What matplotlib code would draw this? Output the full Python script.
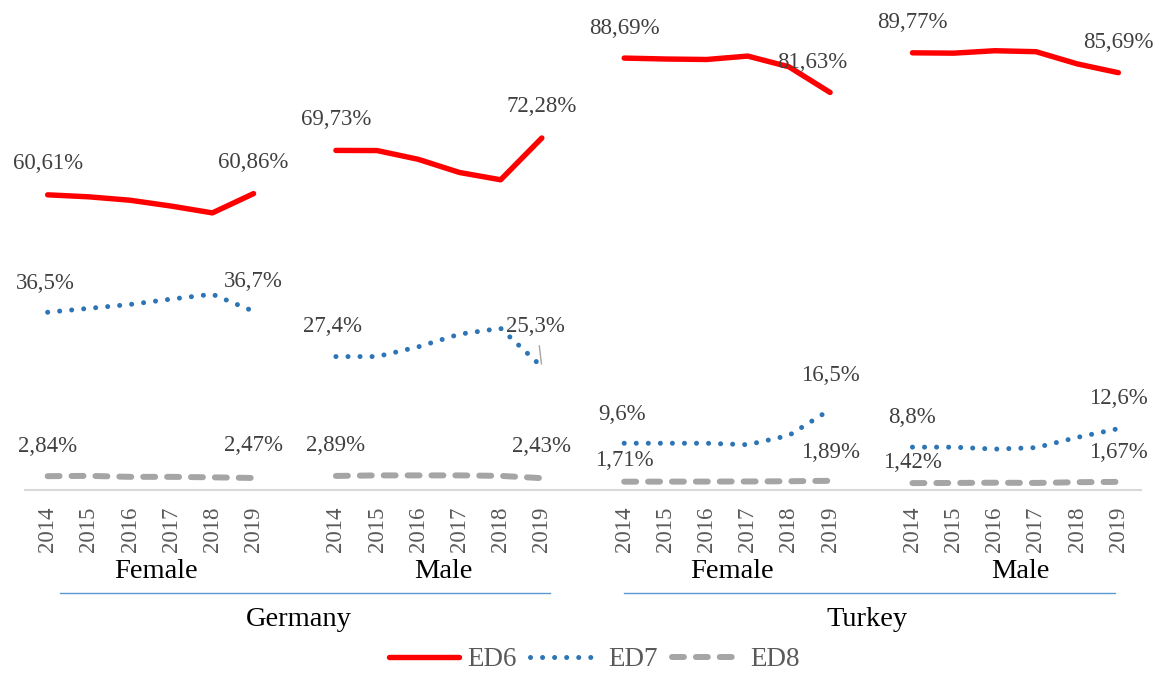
import numpy as np
import matplotlib.pyplot as plt
import matplotlib.transforms as mtransforms

plt.rcParams['font.family'] = ['Liberation Serif', 'DejaVu Serif']

# Datos
years = ['2014', '2015', '2016', '2017', '2018', '2019']
groups = ['Female', 'Male', 'Female', 'Male']
countries = ['Germany', 'Turkey']

ed6 = [[60.61, 60.2, 59.5, 58.3, 56.9, 60.86],
       [69.73, 69.7, 67.9, 65.2, 63.7, 72.28],
       [88.69, 88.5, 88.4, 89.1, 86.9, 81.63],
       [89.77, 89.7, 90.2, 90.0, 87.5, 85.69]]
ed7 = [[36.5, 37.3, 38.1, 39.2, 40.2, 36.7],
       [27.4, 27.4, 29.4, 32.0, 33.2, 25.3],
       [9.6, 9.6, 9.6, 9.3, 11.2, 16.5],
       [8.8, 8.8, 8.4, 8.7, 10.8, 12.6]]
ed8 = [[2.84, 2.9, 2.7, 2.7, 2.6, 2.47],
       [2.89, 3.0, 3.0, 3.0, 2.9, 2.43],
       [1.71, 1.72, 1.73, 1.75, 1.8, 1.89],
       [1.42, 1.45, 1.5, 1.45, 1.6, 1.67]]

# offsets de etiquetas (pixeles) primer / ultimo punto
off6 = [[(0, 31), (0, 31)], [(0, 31), (0, 31)], [(0, 30), (-18, 30)], [(0, 30), (0, 30)]]
off7 = [[(-2, 29), (0, 30)], [(-3, 30), (-6, 40)], [(-2, 29), (0, 34)], [(0, 30), (0, 30)]]
off8 = [[(0, 30), (0, 32)], [(0, 30), (0, 32)], [(0, 21), (0, 28)], [(0, 21), (0, 29)]]


def fmt(v, nd):
    return f"{v:.{nd}f}".replace('.', ',') + '%'


fig = plt.figure(figsize=(11.65, 6.73), dpi=100)
ax = fig.add_axes([25 / 1165, 1 - 490 / 673, 1116 / 1165, 487 / 673])

red = '#FF0000'
blue = '#2E75B6'
grey = '#A5A5A5'
lbl = '#404040'

for g in range(4):
    x = np.arange(6) + g * 7
    l6, = ax.plot(x, ed6[g], color=red, lw=3.9, solid_capstyle='round', solid_joinstyle='round')
    l7, = ax.plot(x, ed7[g], color=blue, lw=3.6, linestyle=(0, (0.01, 2.4)),
                  dash_capstyle='round')
    l8, = ax.plot(x, ed8[g], color=grey, lw=4.3, linestyle=(0, (2.0, 2.0)),
                  dash_capstyle='round')
    for data, offs, nd in [(ed6, off6, 2), (ed7, off7, 1), (ed8, off8, 2)]:
        for k, i in enumerate([0, 5]):
            ax.annotate(fmt(data[g][i], nd), (x[i], data[g][i]), xytext=offs[g][k],
                        textcoords='offset pixels', ha='center', va='center',
                        fontsize=16.5, color=lbl)

# linea guia 25,3%
ax.annotate('', xy=(12, 25.3), xytext=(11.93, 30.2),
            arrowprops=dict(arrowstyle='-', color='#A6A6A6', lw=1))

ax.set_xlim(-0.55, 26.55)
ax.set_ylim(0, 100)
ticks = [g * 7 + i for g in range(4) for i in range(6)]
ax.set_xticks(ticks)
ax.set_xticklabels(years * 4, rotation=90, fontsize=16.5, color='#595959')
ax.tick_params(axis='x', length=0, pad=12)
ax.set_yticks([])
for s in ['top', 'left', 'right']:
    ax.spines[s].set_visible(False)
ax.spines['bottom'].set_color('#D9D9D9')
ax.spines['bottom'].set_linewidth(1.5)

tr = mtransforms.blended_transform_factory(ax.transData, ax.transAxes)
ycat = (490 - 572) / 487
ysep = (490 - 593) / 487
ycty = (490 - 620) / 487
for g, name in enumerate(groups):
    ax.text(g * 7 + 2.62, ycat, name, transform=tr, ha='center', va='center',
            fontsize=20.5, color='black')
cx = [6.1, 19.9]
sep = [(0.3, 12.2), (14.0, 25.93)]
for c, name in enumerate(countries):
    ax.text(cx[c], ycty, name, transform=tr, ha='center', va='center',
            fontsize=20.5, color='black')
    ax.plot(sep[c], [ysep, ysep], transform=tr, color='#5B9BD5', lw=1, clip_on=False)

leg = fig.legend([l6, l7, l8], ['ED6', 'ED7', 'ED8'], loc='center', ncol=3,
                 bbox_to_anchor=(0.51, 1 - 660 / 673), frameon=False, fontsize=19.5,
                 handlelength=2.6, handletextpad=0.3, columnspacing=0.5)
for t in leg.get_texts():
    t.set_color('#595959')

plt.savefig('out.png', dpi=100)
